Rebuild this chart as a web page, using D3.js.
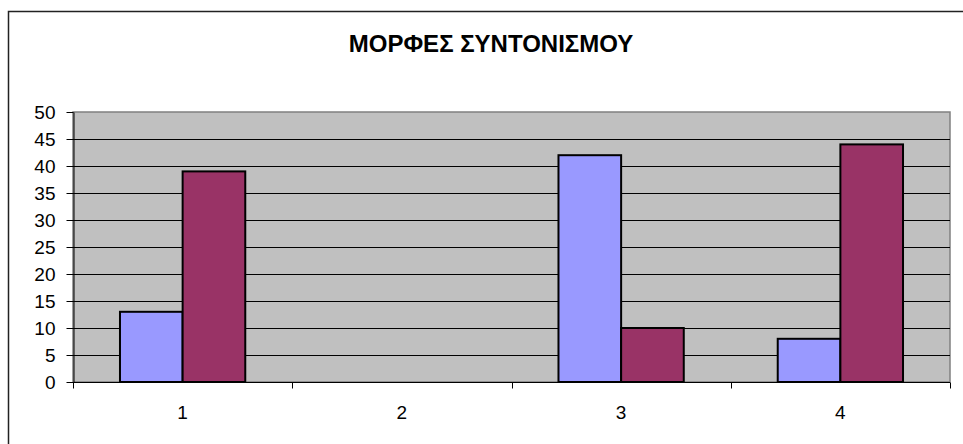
<!DOCTYPE html>
<html>
<head>
<meta charset="utf-8">
<script src="https://cdn.jsdelivr.net/npm/d3@7"></script>
<style>
body { margin: 0; background: #fff; overflow: hidden; }
text { font-family: "Liberation Sans", Arial, sans-serif; }
</style>
</head>
<body>
<svg id="chart" width="963" height="444"></svg>
<script>
var chartTitle = "ΜΟΡΦΕΣ ΣΥΝΤΟΝΙΣΜΟΥ",
categories = ["1", "2", "3", "4"],
seriesA = [13, 0, 42, 8],
seriesB = [39, 0, 10, 44],
yTicks = [0, 5, 10, 15, 20, 25, 30, 35, 40, 45, 50];

var width = 963, height = 444,
plot = {left: 73, right: 950, top: 112, bottom: 382},
svg = d3.select("#chart");

// outer frame, runs off the right and bottom edges
svg.append("rect")
	.attr("x", 8.5).attr("y", 11.5)
	.attr("width", 1000).attr("height", 1000)
	.attr("fill", "#fff")
	.attr("stroke", "#222").attr("stroke-width", 1.5);

svg.append("text")
	.text(chartTitle)
	.attr("x", 491).attr("y", 52)
	.attr("text-anchor", "middle")
	.attr("font-size", "24px")
	.attr("font-weight", "bold");

var x = d3.scaleBand()
	.domain(categories)
	.range([plot.left, plot.right]);

var yScale = d3.scaleLinear()
	.domain([0, 50])
	.range([plot.bottom, plot.top]);

// plot area
svg.append("rect")
	.attr("x", plot.left).attr("y", plot.top)
	.attr("width", plot.right - plot.left).attr("height", plot.bottom - plot.top)
	.attr("fill", "#c0c0c0")
	.attr("stroke", "#808080").attr("stroke-width", 1.5);

svg.append("g")
	.selectAll("line")
	.data(yTicks.slice(1, -1))
	.enter()
	.append("line")
	.attr("x1", plot.left).attr("x2", plot.right)
	.attr("y1", function(d) { return Math.round(yScale(d)) + 0.5; })
	.attr("y2", function(d) { return Math.round(yScale(d)) + 0.5; })
	.attr("stroke", "#000").attr("stroke-width", 1);

// bars
var barW = x.bandwidth() / 3.5;
var groups = svg.append("g")
	.selectAll("g")
	.data(categories)
	.enter()
	.append("g")
	.attr("transform", function(d) { return "translate(" + (x(d) + x.bandwidth() / 2) + ",0)"; });

groups.append("rect")
	.attr("x", -barW)
	.attr("y", function(d, i) { return yScale(seriesA[i]); })
	.attr("width", barW)
	.attr("height", function(d, i) { return plot.bottom - yScale(seriesA[i]); })
	.attr("fill", "#9999ff")
	.attr("stroke", function(d, i) { return seriesA[i] > 0 ? "#000" : "none"; })
	.attr("stroke-width", 2);

groups.append("rect")
	.attr("x", 0)
	.attr("y", function(d, i) { return yScale(seriesB[i]); })
	.attr("width", barW)
	.attr("height", function(d, i) { return plot.bottom - yScale(seriesB[i]); })
	.attr("fill", "#993366")
	.attr("stroke", function(d, i) { return seriesB[i] > 0 ? "#000" : "none"; })
	.attr("stroke-width", 2);

// axes
var yAxis = svg.append("g")
	.attr("transform", "translate(" + (plot.left + 0.5) + ",0)")
	.call(d3.axisLeft(yScale).tickValues(yTicks).tickSize(7).tickPadding(11).tickSizeOuter(0));
yAxis.select(".domain").attr("stroke", "#000");
yAxis.selectAll("text").attr("font-size", "19px").attr("fill", "#000")
	.attr("font-family", "Liberation Sans, Arial, sans-serif");

var xAxis = svg.append("g")
	.attr("transform", "translate(0," + (plot.bottom + 0.5) + ")");
xAxis.append("line")
	.attr("x1", plot.left).attr("x2", plot.right)
	.attr("stroke", "#000");
xAxis.selectAll(".xtick")
	.data(categories.concat(["end"]))
	.enter()
	.append("line")
	.attr("x1", function(d, i) { return Math.round(plot.left + i * x.bandwidth()) + 0.5; })
	.attr("x2", function(d, i) { return Math.round(plot.left + i * x.bandwidth()) + 0.5; })
	.attr("y1", 0).attr("y2", 6)
	.attr("stroke", "#000");
xAxis.selectAll(".xlabel")
	.data(categories)
	.enter()
	.append("text")
	.text(function(d) { return d; })
	.attr("x", function(d) { return x(d) + x.bandwidth() / 2; })
	.attr("y", 36.5)
	.attr("text-anchor", "middle")
	.attr("font-size", "19px");
</script>
</body>
</html>
